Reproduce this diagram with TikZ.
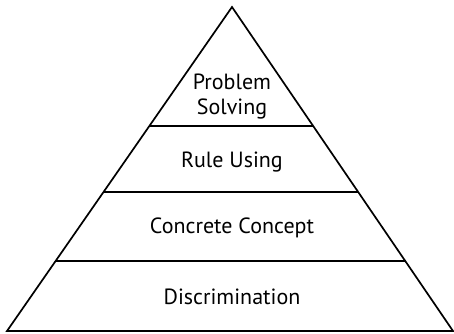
\documentclass[tikz,border=0pt]{standalone}
\usepackage{fontspec}
\setmainfont{PT Sans}
\usepackage{tikz}
\usetikzlibrary{calc}

\tikzset{
	level/.style={anchor=base,font=\fontsize{22}{26}\selectfont},
	edge/.style={black,line width=1.7pt}
}

\begin{document}
\begin{tikzpicture}[x=1pt,y=-1pt]

	\useasboundingbox (0,0) rectangle (454,333);

	\coordinate (apex) at (232,7);
	\coordinate (baseL) at (7,331);
	\coordinate (baseR) at (453,331);

	\draw[edge,line join=miter] (apex) -- (baseL) -- (baseR) -- cycle;

	% dividers between the levels
	\coordinate (l1) at ($(apex)!0.367!(baseL)$);
	\coordinate (r1) at ($(apex)!0.367!(baseR)$);
	\coordinate (l2) at ($(apex)!0.571!(baseL)$);
	\coordinate (r2) at ($(apex)!0.571!(baseR)$);
	\coordinate (l3) at ($(apex)!0.784!(baseL)$);
	\coordinate (r3) at ($(apex)!0.784!(baseR)$);
	\draw[edge] (l1) -- (r1);
	\draw[edge] (l2) -- (r2);
	\draw[edge] (l3) -- (r3);

	\node[level] (problem) at (232,89.3) {Problem};
	\node[level] (solving) at (232,114.5) {Solving};
	\node[level] (rule) at (232,167) {Rule Using};
	\node[level] (concrete) at (232,233.3) {Concrete Concept};
	\node[level] (discr) at (232,304) {Discrimination};

\end{tikzpicture}
\end{document}
